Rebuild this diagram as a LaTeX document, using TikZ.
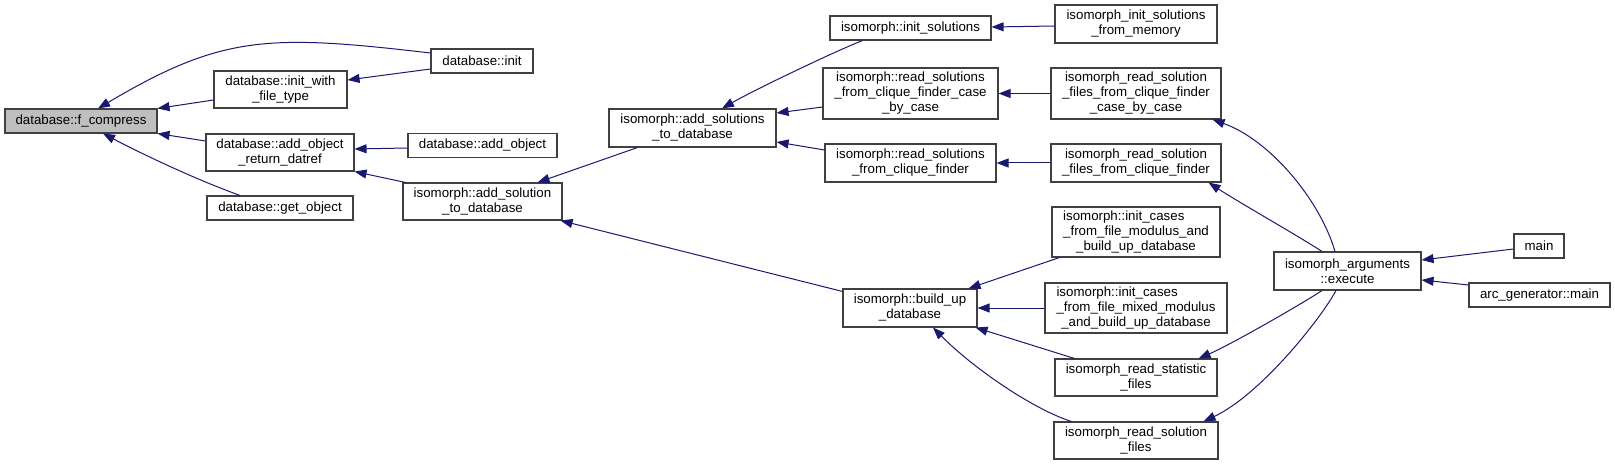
\documentclass[tikz,border=0pt]{standalone}
\usepackage{fontspec}
\setmainfont{Liberation Sans}
\usetikzlibrary{arrows.meta,calc}
\definecolor{edgeblue}{HTML}{191970}
\definecolor{boxline}{HTML}{404040}
\definecolor{hlfill}{HTML}{BFBFBF}
\begin{document}
\begin{tikzpicture}[x=1pt,y=-1pt,
  nd/.style={draw=boxline,line width=1.1pt,fill=white,inner sep=0pt,align=center,
    font=\fontsize{13.3}{15}\selectfont},
  edge/.style={draw=edgeblue,line width=1pt,-{Triangle[length=12pt,width=9pt]}}]
\useasboundingbox (0,0) rectangle (1615,465);

% nodes
\node[nd,fill=hlfill,minimum width=152pt,minimum height=24pt] (fc) at (81,121) {database::f\_compress};
\node[nd,minimum width=102pt,minimum height=24pt] (init) at (482,61) {database::init};
\node[nd,minimum width=133pt,minimum height=37pt] (iwft) at (280.5,89.5) {database::init\_with\\\_file\_type};
\node[nd,minimum width=148pt,minimum height=37pt] (aord) at (280,152.5) {database::add\_object\\\_return\_datref};
\node[nd,minimum width=146pt,minimum height=24pt] (gobj) at (280,208) {database::get\_object};
\node[nd,minimum width=149pt,minimum height=24pt] (aobj) at (482.5,145.5) {database::add\_object};
\node[nd,minimum width=159pt,minimum height=37pt] (asol) at (482.5,201.5) {isomorph::add\_solution\\\_to\_database};
\node[nd,minimum width=167pt,minimum height=38pt] (asols) at (692.5,128) {isomorph::add\_solutions\\\_to\_database};
\node[nd,minimum width=161pt,minimum height=24pt] (isol) at (910.5,28) {isomorph::init\_solutions};
\node[nd,minimum width=162pt,minimum height=38pt] (isfm) at (1136,24) {isomorph\_init\_solutions\\\_from\_memory};
\node[nd,minimum width=175pt,minimum height=51pt] (rscbc) at (910.5,93.5) {isomorph::read\_solutions\\\_from\_clique\_finder\_case\\\_by\_case};
\node[nd,minimum width=170pt,minimum height=51pt] (rsfcbc) at (1136,93.5) {isomorph\_read\_solution\\\_files\_from\_clique\_finder\\\_case\_by\_case};
\node[nd,minimum width=171pt,minimum height=38pt] (rscf) at (910.5,163) {isomorph::read\_solutions\\\_from\_clique\_finder};
\node[nd,minimum width=170pt,minimum height=38pt] (rsfcf) at (1136,163) {isomorph\_read\_solution\\\_files\_from\_clique\_finder};
\node[nd,minimum width=168pt,minimum height=50pt] (icm) at (1136,232) {\rlap{isomorph::init\_cases}\phantom{\_from\_file\_modulus\_and}\\\_from\_file\_modulus\_and\\\_build\_up\_database};
\node[nd,minimum width=134pt,minimum height=38pt] (bud) at (910,308) {isomorph::build\_up\\\_database};
\node[nd,minimum width=182pt,minimum height=50pt] (icmm) at (1136,308) {\rlap{isomorph::init\_cases}\phantom{\_from\_file\_mixed\_modulus}\\\_from\_file\_mixed\_modulus\\\_and\_build\_up\_database};
\node[nd,minimum width=162pt,minimum height=37pt] (rsf) at (1136,377.5) {isomorph\_read\_statistic\\\_files};
\node[nd,minimum width=164pt,minimum height=37pt] (rsolf) at (1136,440.5) {isomorph\_read\_solution\\\_files};
\node[nd,minimum width=147pt,minimum height=38pt] (exe) at (1347.5,271) {isomorph\_arguments\\::execute};
\node[nd,minimum width=50pt,minimum height=24pt] (main) at (1539,246) {main};
\node[nd,minimum width=141pt,minimum height=24pt] (arc) at (1539.5,295) {arc\_generator::main};

% edges (arrow at callee)
\draw[edge] ($(init.west)+(0,-8)$) .. controls (268,34) and (222,35) .. ($(fc.north)+(17,0)$);
\draw[edge] ($(iwft.west)+(0,10.5)$) -- (fc.north east);
\draw[edge] ($(aord.west)+(0,-11.5)$) -- (fc.south east);
\draw[edge] ($(gobj.north)+(-40,0)$) .. controls (200,181) and (150,158) .. ($(fc.south)+(22,0)$);
\draw[edge] ($(init.west)+(0,8)$) -- ($(iwft.east)+(0,-9.5)$);
\draw[edge] ($(aobj.west)+(0,2.5)$) -- ($(aord.east)+(0,-3.5)$);
\draw[edge] ($(asol.north west)+(3,0)$) -- (aord.south east);
\draw[edge] ($(asols.south west)+(29,0)$) -- ($(asol.north east)+(-25,0)$);
\draw[edge] ($(bud.north west)+(0,3)$) -- ($(asol.south east)+(-2,0)$);
\draw[edge] ($(isol.south west)+(33,0)$) .. controls (838,50) and (756,89) .. ($(asols.north)+(29.5,0)$);
\draw[edge] ($(rscbc.west)+(0,13.5)$) -- ($(asols.east)+(0,-15)$);
\draw[edge] ($(rscf.west)+(0,-13)$) -- ($(asols.east)+(0,14)$);
\draw[edge] ($(isfm.west)+(0,2)$) -- ($(isol.east)+(0,-1)$);
\draw[edge] (rsfcbc.west) -- (rscbc.east);
\draw[edge] (rsfcf.west) -- (rscf.east);
\draw[edge] ($(exe.north)+(-12.5,0)$) .. controls (1320,200) and (1270,140) .. ($(rsfcbc.south east)+(-9,0)$);
\draw[edge] ($(exe.north)+(-25.5,0)$) .. controls (1300,237) and (1240,203) .. ($(rsfcf.south east)+(-13,0)$);
\draw[edge] ($(icm.south west)+(8,0)$) -- ($(bud.north east)+(-9,0)$);
\draw[edge] (icmm.west) -- (bud.east);
\draw[edge] ($(rsf.north west)+(20,0)$) -- ($(bud.south east)+(-2,0)$);
\draw[edge] ($(rsolf.north west)+(18,0)$) .. controls (1035,410) and (975,370) .. ($(bud.south)+(23,0)$);
\draw[edge] ($(exe.south)+(-25.5,0)$) .. controls (1300,305) and (1230,345) .. ($(rsf.north east)+(-19,0)$);
\draw[edge] ($(exe.south)+(-11.5,0)$) .. controls (1320,320) and (1260,395) .. ($(rsolf.north east)+(-15,0)$);
\draw[edge] ($(main.west)+(0,3)$) -- ($(exe.east)+(0,-11)$);
\draw[edge] ($(arc.west)+(0,-10)$) -- ($(exe.east)+(0,9)$);
\end{tikzpicture}
\end{document}
